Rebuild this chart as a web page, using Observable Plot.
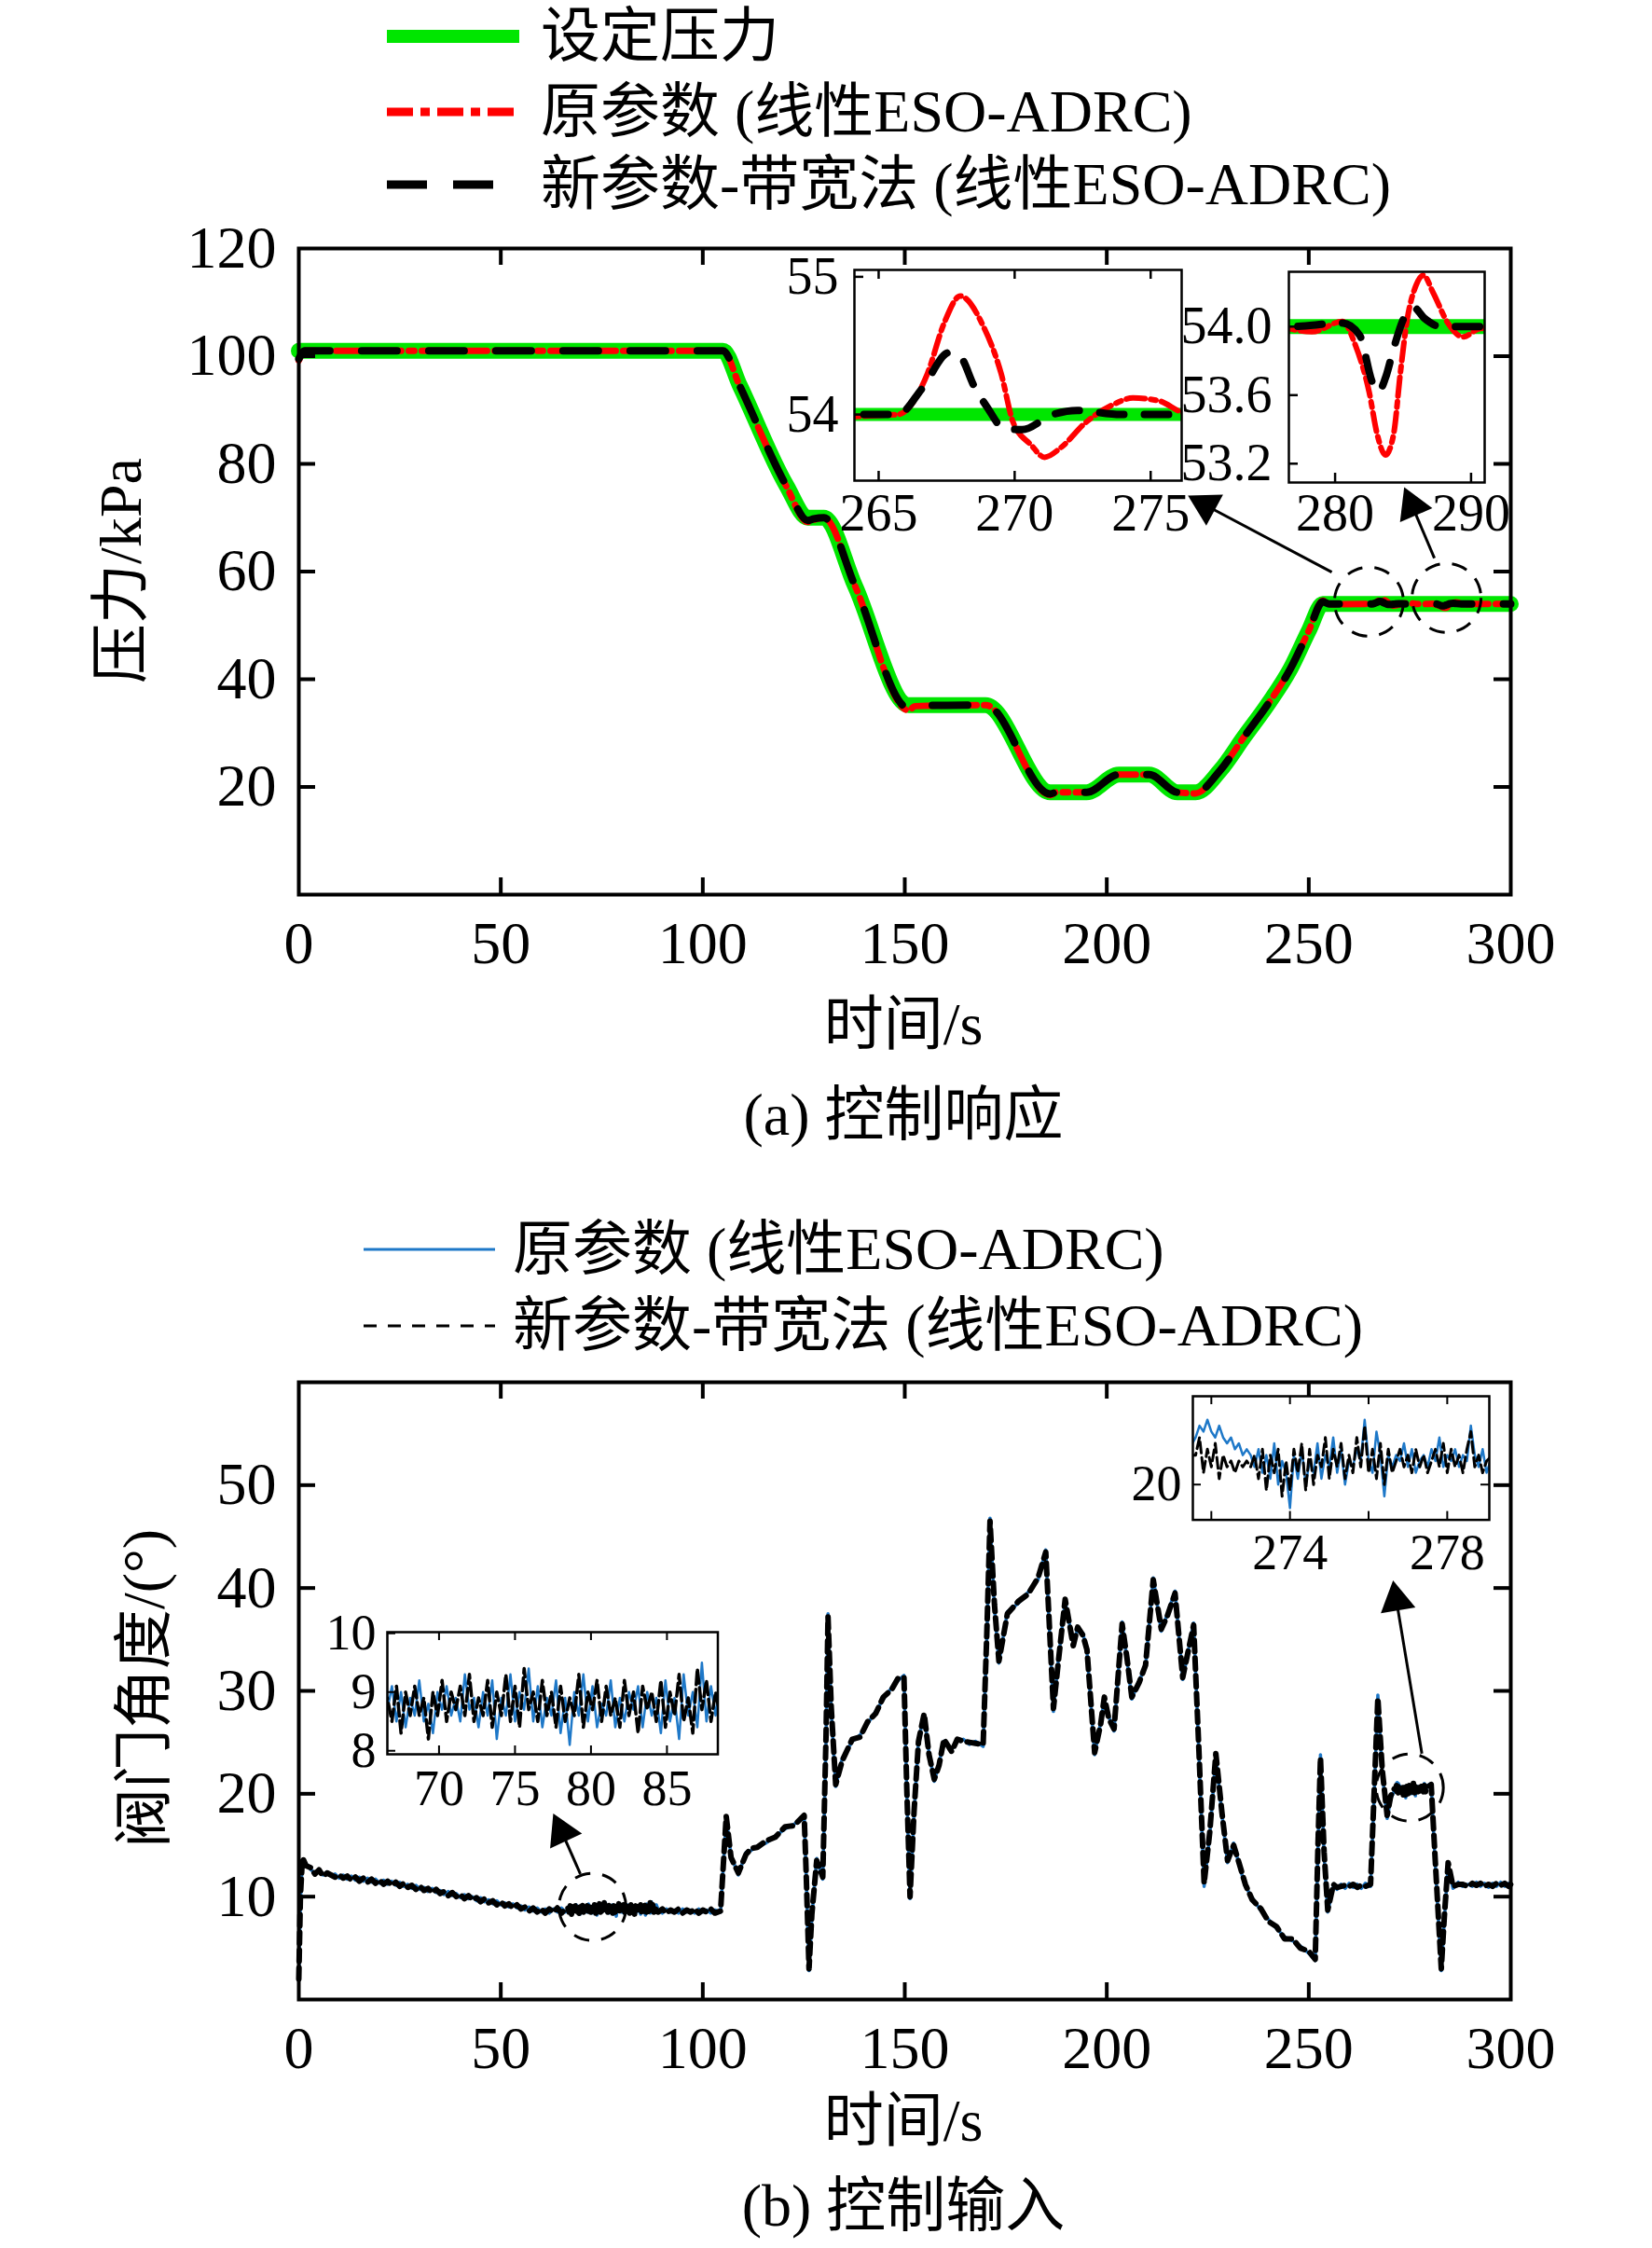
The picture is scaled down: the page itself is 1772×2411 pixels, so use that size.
<!DOCTYPE html>
<html><head><meta charset="utf-8">
<script src="https://cdn.jsdelivr.net/npm/d3@7"></script>
<script src="https://cdn.jsdelivr.net/npm/@observablehq/plot@0.6"></script>
<style>
body{margin:0;background:#fff}
#root{position:relative;width:1772px;height:2411px;overflow:hidden;background:#fff;font-family:"Liberation Serif","Times New Roman","Noto Sans CJK SC",serif;color:#000}
.txt{position:absolute;font-size:64px;line-height:1;white-space:nowrap}
.c{transform:translate(-50%,-50%)}
.l{transform:translateY(-50%)}
.rot{transform:translate(-50%,-50%) rotate(-90deg)}
svg.sw{position:absolute;overflow:visible}
</style></head>
<body><div id="root"></div>
<script>
// ---------------- data: (a) 控制响应 ----------------
const setpointA = [[0,101],[105,101],[109.2,94.5],[120.7,76],[126,70],[130,70],[137.7,57.3],[151,35.2],[170,35.2],[186,19],[195,19],[203,22.3],[210.5,22.3],[217.5,19],[222,19],[228,23],[234,29.3],[240,35.5],[245.5,42],[250,49],[253.5,54],[300,54]];
const redA = [[0,99.2],[1.5,101],[105,101],[109.2,94.3],[120.7,75.8],[126,69.2],[127.5,69.6],[130,70],[137.7,57.3],[151,34.2],[152.5,35],[170,35.2],[186,18.5],[187.5,19],[195,19],[203,22.3],[210.5,22.3],[217.5,19],[222,18.8],[228,23],[234,29.3],[240,35.5],[245.5,42],[250,49],[253.5,54.6],[255,54.0],[256,53.95],[265.7,54.0],[266.8,54.3],[267.4,54.66],[268.0,54.86],[268.85,54.64],[269.5,54.3],[269.95,53.94],[270.6,53.78],[271.1,53.69],[271.7,53.76],[272.6,53.94],[273.6,54.07],[274.35,54.12],[275.3,54.1],[276.1,54.02],[276.6,53.99],[278.3,53.97],[280.55,54.03],[281.5,53.89],[282.5,53.62],[283.1,53.37],[283.7,53.25],[284.3,53.37],[284.8,53.73],[285.3,54.04],[285.95,54.24],[286.5,54.3],[287.2,54.2],[288.3,54.02],[289.4,53.94],[290.7,53.99],[300,54.0]];
const blackA = [[0,99.5],[1.5,101],[105,101],[109.2,94.4],[120.7,75.9],[126,69.5],[127.5,69.8],[130,70],[137.7,57.3],[151,34.6],[152.5,35.1],[170,35.2],[186,18.7],[187.5,19],[195,19],[203,22.3],[210.5,22.3],[217.5,19],[222,18.9],[228,23],[234,29.3],[240,35.5],[245.5,42],[250,49],[253.5,54.4],[255,54.0],[265.7,54.0],[266.6,54.19],[267.6,54.45],[268.0,54.42],[268.5,54.21],[269.0,54.05],[269.6,53.9],[270.27,53.89],[271.4,54.0],[272.3,54.03],[273.9,54.0],[276.6,54.0],[280.55,54.02],[281.8,53.95],[282.76,53.67],[283.2,53.62],[283.7,53.7],[284.3,53.87],[285,54.04],[285.8,54.11],[286.55,54.05],[287.8,54.0],[300,54.0]];
const xTickLabels = [0,50,100,150,200,250,300];
const xTickMarks = [50,100,150,200,250];
const yTickLabelsA = [20,40,60,80,100,120];
const yTickMarksA = [20,40,60,80,100];
const inset1A_xTicks = [265,270,275];
const inset1A_yTicks = [54,55];
const inset2A_xTicks = [280,290];
const inset2A_yTicks = [53.2,53.6,54.0];
const circlesA = [[264.9,54.4],[284.1,55.1]];
const arrowsA = [{t1:255.7,v1:59.9,t2:224.5,v2:72.3,rot:-61.5},{t1:281.1,v1:62.5,t2:275.6,v2:72.2,rot:-23.2}];
const legendA = ["设定压力","原参数 (线性ESO-ADRC)","新参数-带宽法 (线性ESO-ADRC)"];

// ---------------- data: (b) 控制输入 ----------------
const blue1 = [[0,1.8],[0.4,9.5],[0.9,13.6],[1.8,13.2],[3,12.6],[4,12.3],[5,12.5],[6,12.1],[7,12.4],[8,12.0],[9,12.2],[10,11.8],[11,12.1],[12,11.7],[13,12.0],[14,11.6],[15,11.9],[16,11.5],[17,11.8],[18,11.4],[19,11.7],[20,11.3],[21,11.6],[22,11.2],[23,11.5],[24,11.1],[25,11.4],[26,11.0],[27,11.2],[28,10.8],[29,11.1],[30,10.7],[31,10.9],[32,10.5],[33,10.8],[34,10.4],[35,10.6],[36,10.2],[37,10.5],[38,10.1],[39,10.3],[40,9.9],[41,10.2],[42,9.8],[43,10.0],[44,9.6],[45,9.9],[46,9.5],[47,9.7],[48,9.3],[49,9.6],[50,9.2],[51,9.4],[52,9.0],[53,9.3],[54,8.9],[55,9.1],[56,8.7],[57,9.0],[58,8.6],[59,8.9],[60,8.5],[61,8.8],[62,8.4],[63,8.8],[64,8.5],[65,8.9],[66,8.5]];
const black1 = [[0,2.0],[0.4,10],[0.9,13.8],[1.8,13.0],[3,12.8],[4,12.2],[5,12.6],[6,12.0],[7,12.3],[8,12.1],[9,11.9],[10,12.1],[11,11.8],[12,12.0],[13,11.6],[14,11.9],[15,11.5],[16,11.8],[17,11.4],[18,11.7],[19,11.3],[20,11.6],[21,11.2],[22,11.5],[23,11.1],[24,11.4],[25,11.0],[26,11.3],[27,10.9],[28,11.1],[29,10.7],[30,11.0],[31,10.6],[32,10.8],[33,10.4],[34,10.7],[35,10.3],[36,10.5],[37,10.1],[38,10.4],[39,10.0],[40,10.2],[41,9.8],[42,10.1],[43,9.7],[44,9.9],[45,9.5],[46,9.8],[47,9.4],[48,9.6],[49,9.2],[50,9.5],[51,9.1],[52,9.3],[53,8.9],[54,9.2],[55,8.8],[56,9.0],[57,8.6],[58,8.9],[59,8.5],[60,8.8],[61,8.4],[62,8.8],[63,8.5],[64,8.9],[65,8.4],[66,8.8]];
const blueInset1 = [[66.6,8.7],[66.9,9.1],[67.2,8.5],[67.5,9.0],[67.8,8.4],[68.1,8.9],[68.4,8.6],[68.7,9.2],[69.0,8.5],[69.3,8.8],[69.6,8.3],[69.9,9.0],[70.2,8.7],[70.5,9.1],[70.8,8.6],[71.1,8.9],[71.4,8.5],[71.7,9.3],[72.0,8.7],[72.3,8.9],[72.6,8.4],[72.9,9.0],[73.2,8.6],[73.5,9.2],[73.8,8.2],[74.1,8.9],[74.4,8.6],[74.7,9.3],[75.0,8.5],[75.3,9.0],[75.6,8.7],[75.9,9.4],[76.2,8.5],[76.5,9.1],[76.8,8.4],[77.1,8.9],[77.4,8.6],[77.7,9.2],[78.0,8.3],[78.3,8.9],[78.6,8.1],[78.9,9.0],[79.2,8.6],[79.5,9.3],[79.8,8.5],[80.1,9.1],[80.4,8.4],[80.7,8.8],[81.0,8.6],[81.3,9.2],[81.6,8.4],[81.9,8.9],[82.2,8.5],[82.5,9.0],[82.8,8.7],[83.1,9.1],[83.4,8.4],[83.7,9.0],[84.0,8.6],[84.3,8.9],[84.6,8.3],[84.9,9.2],[85.2,8.5],[85.5,8.9],[85.8,8.2],[86.1,9.3],[86.4,8.6],[86.7,9.0],[87.0,8.4],[87.3,9.5],[87.6,8.5],[87.9,9.1],[88.2,8.6],[88.5,9.2]];
const blackInset1 = [[66.6,8.9],[66.9,8.5],[67.2,9.1],[67.5,8.3],[67.8,9.0],[68.1,8.6],[68.4,9.1],[68.7,8.6],[69.0,8.9],[69.3,8.2],[69.6,9.0],[69.9,8.6],[70.2,9.2],[70.5,8.5],[70.8,9.0],[71.1,8.7],[71.4,9.1],[71.7,8.6],[72.0,9.3],[72.3,8.5],[72.6,8.9],[72.9,8.6],[73.2,9.2],[73.5,8.4],[73.8,9.0],[74.1,8.6],[74.4,9.3],[74.7,8.5],[75.0,9.1],[75.3,8.4],[75.6,9.4],[75.9,8.7],[76.2,9.0],[76.5,8.5],[76.8,9.2],[77.1,8.6],[77.4,9.0],[77.7,8.4],[78.0,9.1],[78.3,8.5],[78.6,8.9],[78.9,8.6],[79.2,9.3],[79.5,8.4],[79.8,9.0],[80.1,8.7],[80.4,9.2],[80.7,8.5],[81.0,9.1],[81.3,8.6],[81.6,8.9],[81.9,8.4],[82.2,9.2],[82.5,8.6],[82.8,9.0],[83.1,8.3],[83.4,9.1],[83.7,8.7],[84.0,9.0],[84.3,8.5],[84.6,9.2],[84.9,8.4],[85.2,9.0],[85.5,8.6],[85.8,9.3],[86.1,8.5],[86.4,8.9],[86.7,8.3],[87.0,9.4],[87.3,8.7],[87.6,9.2],[87.9,8.5],[88.2,9.0],[88.5,8.6]];
const blue2 = [[89,8.7],[90,8.4],[91,8.8],[92,8.5],[93,8.7],[94,8.4],[95,8.8],[96,8.5],[97,8.7],[98,8.4],[99,8.8],[100,8.5],[101,8.7],[102,8.4],[103,8.7],[104.4,8.5],[105.8,17.6],[107,14],[108.8,12.1],[110.7,14.3],[112,14.5],[113.5,14.9],[115.6,15.2],[118,15.9],[120.4,16.6],[122.5,17.0],[125.1,17.8],[125.6,12],[126.3,2.8],[127,8],[128.2,13.7],[129.7,11.7],[130.5,25],[131,37.5],[131.8,28],[132.9,20.7],[134.5,23.4],[137,25.1],[138.9,25.7],[140.8,26.8],[142.8,28],[144.7,29.2],[146.7,30.3],[148.3,31],[149.8,31.5],[150.5,20],[151.3,9.8],[152.3,18],[153.4,25.3],[154.8,27.6],[156,24],[157.3,21.2],[158.5,23],[159.7,25.1],[161.6,24.3],[163,25.1],[164.5,25.3],[166,24.8],[167.5,25.1],[169.4,24.6],[170.3,35],[171.1,46.8],[172.2,38],[173.3,32.7],[175.4,37.7],[178.1,38.5],[180.5,39.6],[183,40.8],[184.9,43.7],[185.8,36],[186.8,28],[188,33],[189.7,38.7],[191.7,34.6],[192.8,36],[194.1,35.6],[195.1,33.8],[197,23.8],[198.5,27],[199.4,29.2],[200.5,27.5],[201.8,26.1],[203.8,36.7],[205,33],[206.2,29.2],[208,31],[209.6,32.3],[211.5,41],[213.5,35.8],[215,37.5],[216.9,39.7],[218.8,31.1],[221.5,36.6],[222.8,24],[224.1,11.0],[225.5,16],[227,23.6],[228.5,18],[229.9,13.3],[231.4,15.2],[232.8,13],[234.3,11.0],[236,9.9],[238.2,8.6],[240,7.8],[242,6.9],[244,6.1],[246,5.7],[247.9,5.2],[250,4.5],[251.6,3.8],[252.3,15],[252.9,23.8],[253.8,14],[254.7,8.5],[256.1,11],[257,10.7],[258,11.2],[259,10.8],[260,11.3],[261,10.9],[262,11.2],[263,10.8],[264,11.3],[265.3,11],[266.2,20],[267.1,29.6],[268.2,22],[269.4,17.6],[270.3,19.5],[271.2,20.3]];
const black2 = [[89,8.5],[90,8.8],[91,8.4],[92,8.7],[93,8.5],[94,8.8],[95,8.4],[96,8.7],[97,8.5],[98,8.8],[99,8.4],[100,8.7],[101,8.5],[102,8.8],[103,8.4],[104.4,8.6],[105.8,17.8],[107,13.8],[108.8,12.3],[110.7,14.1],[112,14.7],[113.5,14.8],[115.6,15.4],[118,15.8],[120.4,16.8],[122.5,16.9],[125.1,17.9],[125.6,12.2],[126.3,3.0],[127,8.3],[128.2,13.5],[129.7,11.9],[130.5,25.5],[131,37.2],[131.8,28.4],[132.9,20.9],[134.5,23.2],[137,25.3],[138.9,25.5],[140.8,27],[142.8,27.8],[144.7,29.4],[146.7,30.1],[148.3,31.2],[149.8,31.3],[150.5,20.5],[151.3,10.0],[152.3,18.3],[153.4,25.1],[154.8,27.8],[156,23.8],[157.3,21.4],[158.5,22.8],[159.7,25.3],[161.6,24.1],[163,25.3],[164.5,25.1],[166,25.0],[167.5,24.9],[169.4,24.8],[170.3,35.5],[171.1,46.5],[172.2,38.4],[173.3,32.9],[175.4,37.5],[178.1,38.7],[180.5,39.4],[183,41],[184.9,43.5],[185.8,36.3],[186.8,28.3],[188,32.8],[189.7,38.9],[191.7,34.4],[192.8,36.2],[194.1,35.4],[195.1,34],[197,24],[198.5,26.8],[199.4,29.4],[200.5,27.3],[201.8,26.3],[203.8,36.5],[205,33.2],[206.2,29.4],[208,30.8],[209.6,32.5],[211.5,40.8],[213.5,36],[215,37.3],[216.9,39.5],[218.8,31.3],[221.5,36.4],[222.8,24.3],[224.1,11.3],[225.5,16.3],[227,23.9],[228.5,18.2],[229.9,13.5],[231.4,15.0],[232.8,13.2],[234.3,11.2],[236,9.7],[238.2,8.8],[240,7.6],[242,7.1],[244,5.9],[246,5.9],[247.9,5.0],[250,4.7],[251.6,3.9],[252.3,15.3],[252.9,23.5],[253.8,14.3],[254.7,8.7],[256.1,11.2],[257,10.9],[258,11.0],[259,11.1],[260,11.0],[261,11.2],[262,10.9],[263,11.1],[264,11.0],[265.3,11.2],[266.2,20.3],[267.1,29.3],[268.2,22.3],[269.4,17.9],[270.3,19.8],[271.2,20.5]];
const blueInset2 = [[271.6,20.8],[271.7,21.0],[271.8,20.9],[271.9,21.1],[272.0,20.9],[272.1,20.8],[272.2,21.0],[272.3,20.8],[272.4,20.7],[272.5,20.8],[272.6,20.6],[272.7,20.7],[272.8,20.5],[272.9,20.6],[273.0,20.5],[273.1,20.3],[273.2,20.6],[273.3,20.2],[273.4,20.5],[273.5,20.1],[273.6,20.7],[273.7,20.0],[273.8,20.4],[273.9,20.2],[274.0,19.6],[274.1,20.5],[274.2,20.1],[274.3,20.6],[274.4,20.0],[274.5,20.4],[274.6,20.2],[274.7,20.7],[274.8,20.1],[274.9,20.5],[275.0,20.3],[275.1,20.8],[275.2,20.2],[275.3,20.6],[275.4,20.0],[275.5,20.4],[275.6,20.3],[275.7,20.6],[275.8,20.4],[275.9,21.1],[276.0,20.4],[276.1,20.2],[276.2,20.9],[276.3,20.5],[276.4,19.8],[276.5,20.5],[276.6,20.3],[276.7,20.5],[276.8,20.4],[276.9,20.7],[277.0,20.3],[277.1,20.6],[277.2,20.2],[277.3,20.4],[277.4,20.5],[277.5,20.3],[277.6,20.6],[277.7,20.4],[277.8,20.8],[277.9,20.3],[278.0,20.5],[278.1,20.4],[278.2,20.6],[278.3,20.3],[278.4,20.5],[278.5,20.4],[278.6,21.0],[278.7,20.5],[278.8,20.3],[278.9,20.6],[279.0,20.2]];
const blackInset2 = [[271.6,20.5],[271.7,20.8],[271.8,20.2],[271.9,20.6],[272.0,20.3],[272.1,20.7],[272.2,20.1],[272.3,20.5],[272.4,20.3],[272.5,20.4],[272.6,20.2],[272.7,20.4],[272.8,20.3],[272.9,20.4],[273.0,20.3],[273.1,20.5],[273.2,20.1],[273.3,20.6],[273.4,19.9],[273.5,20.5],[273.6,20.2],[273.7,20.6],[273.8,19.8],[273.9,20.4],[274.0,19.9],[274.1,20.6],[274.2,20.2],[274.3,20.7],[274.4,19.9],[274.5,20.6],[274.6,20.0],[274.7,20.5],[274.8,20.3],[274.9,20.8],[275.0,20.1],[275.1,20.6],[275.2,20.3],[275.3,20.7],[275.4,20.1],[275.5,20.5],[275.6,20.2],[275.7,20.8],[275.8,20.3],[275.9,21.0],[276.0,20.2],[276.1,20.6],[276.2,20.1],[276.3,20.7],[276.4,20.0],[276.5,20.6],[276.6,20.2],[276.7,20.4],[276.8,20.6],[276.9,20.3],[277.0,20.5],[277.1,20.2],[277.2,20.6],[277.3,20.3],[277.4,20.5],[277.5,20.2],[277.6,20.4],[277.7,20.6],[277.8,20.3],[277.9,20.7],[278.0,20.2],[278.1,20.6],[278.2,20.3],[278.3,20.5],[278.4,20.2],[278.5,20.6],[278.6,20.9],[278.7,20.3],[278.8,20.5],[278.9,20.2],[279.0,20.4]];
const blue3 = [[279.3,20.8],[280.3,21.0],[281.2,14],[282.8,2.8],[283.6,8],[284.5,13.1],[285.7,10.8],[287,11.4],[288,11.0],[289.5,11.2],[290.5,11.0],[291.5,11.4],[292.5,11.0],[293.5,11.3],[294.5,10.9],[295.5,11.3],[296.5,11.0],[297.5,11.4],[298.5,11.0],[299.5,11.3],[300,11.1]];
const black3 = [[279.3,20.6],[280.3,20.9],[281.2,14.3],[282.8,3.0],[283.6,8.3],[284.5,13.3],[285.7,11.0],[287,11.2],[288,11.2],[289.5,11.0],[290.5,11.3],[291.5,11.1],[292.5,11.3],[293.5,11.0],[294.5,11.2],[295.5,11.0],[296.5,11.3],[297.5,11.1],[298.5,11.3],[299.5,11.0],[300,11.2]];
const yTicksB = [10,20,30,40,50];
const inset1B_xTicks = [70,75,80,85];
const inset1B_yTicks = [8,9,10];
const inset2B_xTickMarks = [272,274,276,278];
const inset2B_xTickLabels = [274,278];
const inset2B_yTicks = [20];
const circlesB = [[72.7,9.0],[275,20.6]];
const arrowsB = [{t1:69.7,v1:12.2,t2:65.1,v2:16.3,rot:-24.9},{t1:278.0,v1:23.9,t2:271.7,v2:38.8,rot:-9.6}];
const legendB = ["原参数 (线性ESO-ADRC)","新参数-带宽法 (线性ESO-ADRC)"];
const captions = ["(a) 控制响应","(b) 控制输入"];
const axisLabels = {x:"时间/s", yA:"压力/kPa", yB:"阀门角度/(°)"};

// ---------------- styling ----------------
const FONT = '"Liberation Serif","Times New Roman","Noto Sans CJK SC",serif';
const GREEN = "#00e600", RED = "#ff0000", BLUE = "#1e78c8";
const blueAll = blue1.concat(blueInset1, blue2, blueInset2, blue3);
const blackAll = black1.concat(blackInset1, black2, blackInset2, black3);
const X = d => d[0], Y = d => d[1];
const root = document.getElementById("root");

function place(el, left, top) {
  el.style.position = "absolute"; el.style.left = left + "px"; el.style.top = top + "px";
  root.appendChild(el);
}
function text(str, x, y, cls, size) {
  const d = document.createElement("div");
  d.className = "txt " + cls; d.textContent = str;
  d.style.left = x + "px"; d.style.top = y + "px";
  if (size) d.style.fontSize = size + "px";
  root.appendChild(d);
}
function swatch(x1, x2, y, stroke, width, dash) {
  const ns = "http://www.w3.org/2000/svg";
  const s = document.createElementNS(ns, "svg");
  s.setAttribute("class", "sw"); s.setAttribute("width", x2 - x1); s.setAttribute("height", 40);
  s.style.left = x1 + "px"; s.style.top = (y - 20) + "px";
  const l = document.createElementNS(ns, "line");
  l.setAttribute("x1", 0); l.setAttribute("x2", x2 - x1); l.setAttribute("y1", 20); l.setAttribute("y2", 20);
  l.setAttribute("stroke", stroke); l.setAttribute("stroke-width", width);
  if (dash) l.setAttribute("stroke-dasharray", dash);
  s.appendChild(l); root.appendChild(s);
}
function frameTicks(xT, yT, fw, fh, len, sw, both) {
  const m = [
    Plot.tickX(xT, {x: d => d, insetTop: fh - len, strokeWidth: sw}),
    Plot.tickY(yT, {y: d => d, insetRight: fw - len, strokeWidth: sw})
  ];
  if (both) {
    m.push(Plot.tickX(xT, {x: d => d, insetBottom: fh - len, strokeWidth: sw}));
    m.push(Plot.tickY(yT, {y: d => d, insetLeft: fw - len, strokeWidth: sw}));
  }
  return m;
}
const baseStyle = {fontFamily: FONT, fontSize: "64px", background: "transparent", overflow: "visible"};

// ---------------- (a) main ----------------
const A = Plot.plot({
  width: 1772, height: 1130, marginLeft: 320, marginRight: 152, marginTop: 266, marginBottom: 171,
  x: {domain: [0, 300]}, y: {domain: [0, 120]}, style: baseStyle,
  marks: [
    Plot.line(setpointA, {x: X, y: Y, stroke: GREEN, strokeWidth: 17, curve: "monotone-x", strokeLinejoin: "round"}),
    Plot.line(redA, {x: X, y: Y, stroke: RED, strokeWidth: 7, strokeDasharray: "24,8,6,8", curve: "monotone-x"}),
    Plot.line(blackA, {x: X, y: Y, stroke: "black", strokeWidth: 8, strokeDasharray: "38,34", curve: "monotone-x"}),
    Plot.frame({strokeWidth: 4}),
    ...frameTicks(xTickMarks, yTickMarksA, 1300, 693, 18, 4, true),
    Plot.axisX({ticks: xTickLabels, tickSize: 0, tickPadding: 28, fontSize: 64, tickFormat: d => d, label: null}),
    Plot.axisY({ticks: yTickLabelsA, tickSize: 0, tickPadding: 24, fontSize: 64, tickFormat: d => d, label: null}),
    Plot.dot(circlesA, {x: X, y: Y, r: 37, stroke: "black", strokeWidth: 3, strokeDasharray: "17,13", fill: "none"}),
    Plot.link(arrowsA, {x1: "t1", y1: "v1", x2: "t2", y2: "v2", stroke: "black", strokeWidth: 3}),
    Plot.dot(arrowsA, {x: "t2", y: "v2", symbol: "triangle", r: 14, fill: "black", rotate: "rot"})
  ]
});
place(A, 0, 0);

// inset (a)-1
const A1 = Plot.plot({
  width: 90 + 351 + 10, height: 8 + 226 + 70, marginLeft: 90, marginRight: 10, marginTop: 8, marginBottom: 70,
  x: {domain: [264.11, 276.14]}, y: {domain: [53.52, 55.05]}, style: baseStyle,
  marks: [
    Plot.frame({fill: "white", stroke: "none"}),
    Plot.line(setpointA, {x: X, y: Y, stroke: GREEN, strokeWidth: 14, clip: true}),
    Plot.line(redA, {x: X, y: Y, stroke: RED, strokeWidth: 6, strokeDasharray: "20,6,6,6", curve: "monotone-x", clip: true}),
    Plot.line(blackA, {x: X, y: Y, stroke: "black", strokeWidth: 8, strokeDasharray: "26,22", curve: "monotone-x", clip: true}),
    Plot.frame({strokeWidth: 2.5}),
    ...frameTicks(inset1A_xTicks, inset1A_yTicks, 351, 226, 10, 2.5, false),
    Plot.tickX(inset1A_xTicks, {x: d => d, insetBottom: 216, strokeWidth: 2.5}),
    Plot.axisX({ticks: inset1A_xTicks, tickSize: 0, tickPadding: 14, fontSize: 56, tickFormat: d => d, label: null}),
    Plot.axisY({ticks: inset1A_yTicks, tickSize: 0, tickPadding: 17, fontSize: 56, tickFormat: d => d, label: null})
  ]
});
place(A1, 916 - 90, 289 - 8);

// inset (a)-2
const A2 = Plot.plot({
  width: 120 + 210 + 40, height: 8 + 226 + 70, marginLeft: 120, marginRight: 40, marginTop: 8, marginBottom: 70,
  x: {domain: [276.6, 291.0]}, y: {domain: [53.09, 54.32]}, style: baseStyle,
  marks: [
    Plot.frame({fill: "white", stroke: "none"}),
    Plot.line(setpointA, {x: X, y: Y, stroke: GREEN, strokeWidth: 16, clip: true}),
    Plot.line(redA, {x: X, y: Y, stroke: RED, strokeWidth: 6, strokeDasharray: "20,6,6,6", curve: "monotone-x", clip: true}),
    Plot.line(blackA, {x: X, y: Y, stroke: "black", strokeWidth: 8, strokeDasharray: "26,22", curve: "monotone-x", clip: true}),
    Plot.frame({strokeWidth: 2.5}),
    ...frameTicks(inset2A_xTicks, inset2A_yTicks, 210, 226, 10, 2.5, false),
    Plot.axisX({ticks: inset2A_xTicks, tickSize: 0, tickPadding: 12, fontSize: 56, tickFormat: d => d, label: null}),
    Plot.axisY({ticks: inset2A_yTicks, tickSize: 0, tickPadding: 18, fontSize: 56, tickFormat: d3.format(".1f"), label: null})
  ]
});
place(A2, 1382 - 120, 291 - 8);

// ---------------- (b) main ----------------
const B = Plot.plot({
  width: 1772, height: 1000, marginLeft: 320, marginRight: 152, marginTop: 232, marginBottom: 106,
  x: {domain: [0, 300]}, y: {domain: [0, 60]}, style: baseStyle,
  marks: [
    Plot.line(blueAll, {x: X, y: Y, stroke: BLUE, strokeWidth: 3.5}),
    Plot.line(blackAll, {x: X, y: Y, stroke: "black", strokeWidth: 6, strokeDasharray: "12,7"}),
    Plot.frame({strokeWidth: 4}),
    ...frameTicks(xTickMarks, yTicksB, 1300, 662, 18, 4, true),
    Plot.axisX({ticks: xTickLabels, tickSize: 0, tickPadding: 28, fontSize: 64, tickFormat: d => d, label: null}),
    Plot.axisY({ticks: yTicksB, tickSize: 0, tickPadding: 24, fontSize: 64, tickFormat: d => d, label: null}),
    Plot.dot(circlesB, {x: X, y: Y, r: 36, stroke: "black", strokeWidth: 3, strokeDasharray: "17,13", fill: "none"}),
    Plot.link(arrowsB, {x1: "t1", y1: "v1", x2: "t2", y2: "v2", stroke: "black", strokeWidth: 3}),
    Plot.dot(arrowsB, {x: "t2", y: "v2", symbol: "triangle", r: 14, fill: "black", rotate: "rot"})
  ]
});
place(B, 0, 1250);

// inset (b)-1
const B1 = Plot.plot({
  width: 70 + 354.5 + 20, height: 8 + 131 + 70, marginLeft: 70, marginRight: 20, marginTop: 8, marginBottom: 70,
  x: {domain: [66.6, 88.35]}, y: {domain: [7.94, 10.02]}, style: baseStyle,
  marks: [
    Plot.frame({fill: "white", stroke: "none"}),
    Plot.line(blueAll, {x: X, y: Y, stroke: BLUE, strokeWidth: 2.5, clip: true}),
    Plot.line(blackAll, {x: X, y: Y, stroke: "black", strokeWidth: 3.5, strokeDasharray: "14,5", clip: true}),
    Plot.frame({strokeWidth: 2.5}),
    ...frameTicks(inset1B_xTicks, inset1B_yTicks, 354.5, 131, 9, 2, false),
    Plot.tickX(inset1B_xTicks, {x: d => d, insetBottom: 122, strokeWidth: 2}),
    Plot.axisX({ticks: inset1B_xTicks, tickSize: 0, tickPadding: 16, fontSize: 54, tickFormat: d => d, label: null}),
    Plot.axisY({ticks: inset1B_yTicks, tickSize: 0, tickPadding: 12, fontSize: 54, tickFormat: d => d, label: null})
  ]
});
place(B1, 415 - 70, 1750 - 8);

// inset (b)-2
const B2 = Plot.plot({
  width: 70 + 318 + 30, height: 8 + 132.6 + 70, marginLeft: 70, marginRight: 30, marginTop: 8, marginBottom: 70,
  x: {domain: [271.53, 279.07]}, y: {domain: [19.4, 21.5]}, style: baseStyle,
  marks: [
    Plot.frame({fill: "white", stroke: "none"}),
    Plot.line(blueAll, {x: X, y: Y, stroke: BLUE, strokeWidth: 2.5, clip: true}),
    Plot.line(blackAll, {x: X, y: Y, stroke: "black", strokeWidth: 3, strokeDasharray: "12,5", clip: true}),
    Plot.frame({strokeWidth: 2.5}),
    ...frameTicks(inset2B_xTickMarks, inset2B_yTicks, 318, 132.6, 9, 2, true),
    Plot.axisX({ticks: inset2B_xTickLabels, tickSize: 0, tickPadding: 15, fontSize: 54, tickFormat: d => d, label: null}),
    Plot.axisY({ticks: inset2B_yTicks, tickSize: 0, tickPadding: 12, fontSize: 54, tickFormat: d => d, label: null})
  ]
});
place(B2, 1278.5 - 70, 1497 - 8);

// ---------------- legends & labels (HTML) ----------------
swatch(415, 557, 39, GREEN, 14);
swatch(415, 557, 120, RED, 9, "28,8,10,8");
swatch(415, 557, 198, "black", 9, "43,28");
text(legendA[0], 580, 39, "l");
text(legendA[1], 580, 120, "l");
text(legendA[2], 580, 198, "l");

swatch(390, 531, 1340, BLUE, 3);
swatch(390, 531, 1422, "black", 3, "14,12");
text(legendB[0], 550, 1340, "l");
text(legendB[1], 550, 1422, "l");

text(axisLabels.yA, 130, 612, "rot");
text(axisLabels.x, 969, 1099, "c");
text(captions[0], 969, 1196, "c");
text(axisLabels.yB, 155, 1811, "rot");
text(axisLabels.x, 969, 2275, "c");
text(captions[1], 969, 2366, "c");
</script>
</body></html>
